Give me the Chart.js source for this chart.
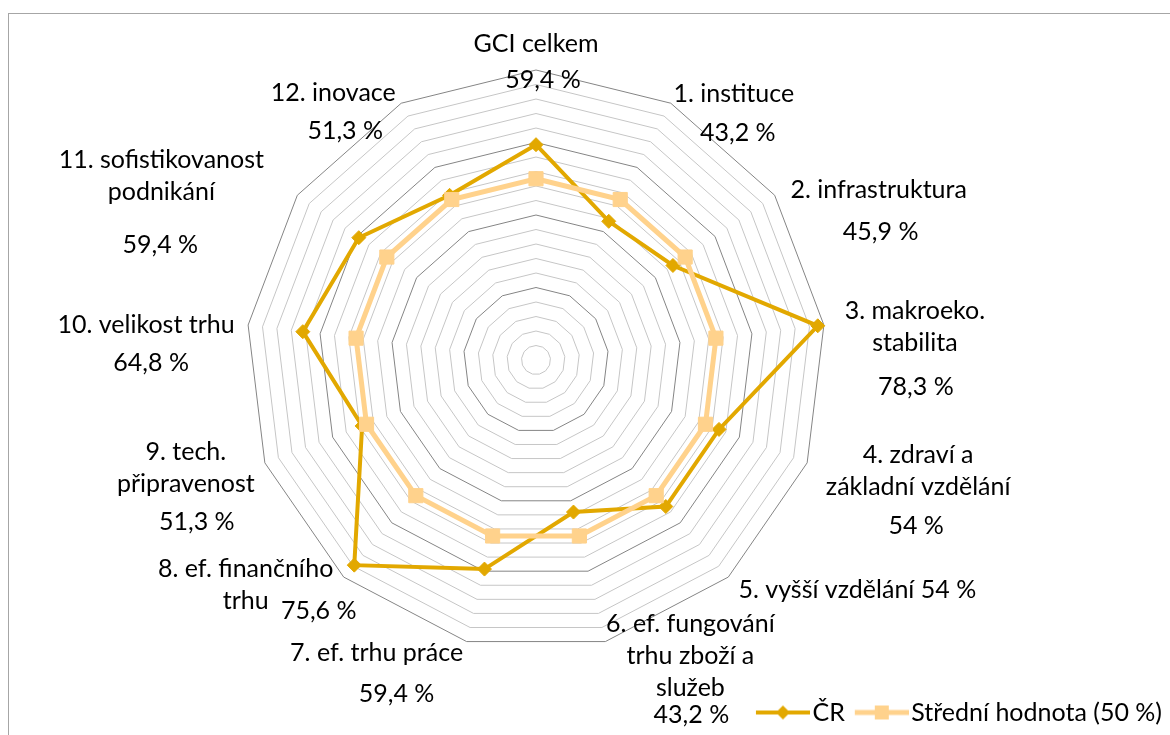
<!DOCTYPE html>
<html>
<head>
<meta charset="utf-8">
<script src="https://cdn.jsdelivr.net/npm/chart.js@4.4.1/dist/chart.umd.min.js"></script>
<style>
  html, body { margin: 0; padding: 0; background: #fff; overflow: hidden; }
  #wrap { position: relative; width: 1170px; height: 735px; }
  #frame { position: absolute; left: 8px; top: 13px; width: 1200px; height: 800px; border: 1px solid #a6a6a6; }
  canvas { position: absolute; left: 0; top: 0; }
</style>
</head>
<body>
<div id="wrap">
  <div id="frame"></div>
  <canvas id="chart" width="1170" height="735"></canvas>
</div>
<script>
'use strict'

// data
const categories = [
  ['GCI celkem'],
  ['1. instituce'],
  ['2. infrastruktura'],
  ['3. makroeko.', 'stabilita'],
  ['4. zdraví a', 'základní vzdělání'],
  ['5. vyšší vzdělání'],
  ['6. ef. fungování', 'trhu zboží a', 'služeb'],
  ['7. ef. trhu práce'],
  ['8. ef. finančního', 'trhu'],
  ['9. tech.', 'připravenost'],
  ['10. velikost trhu'],
  ['11. sofistikovanost', 'podnikání'],
  ['12. inovace'],
]
const crValues = [59.4, 43.2, 45.9, 78.3, 54, 54, 43.2, 59.4, 75.6, 51.3, 64.8, 59.4, 51.3]
const meanValues = [50, 50, 50, 50, 50, 50, 50, 50, 50, 50, 50, 50, 50]
const seriesNames = ['ČR', 'Střední hodnota (50 %)']
const scaleMin = 0
const scaleMax = 80
const scaleStep = 4
const majorStep = 20

// layout / style
const CR_COLOR = '#E2A800'
const MEAN_COLOR = '#FFD28C'
const FONT = 'Lato'
const FONT_SIZE = 25
const CENTER_X = 536
const CENTER_Y = 360
const RADIUS = 290
const LINE_GAP = 32
// label block placement relative to the end of each axis:
// [dx, dy of first line, value dx, value gap below last line (0 = same line)]
const labelLayout = [
  [0, -26, 7, 36],
  [63, -9, 4, 39],
  [104, -5, 2, 42],
  [91, -14, 1, 44],
  [111, -8, -2, 39],
  [129, 13, 0, 0],
  [85, -18, 1, 27],
  [-90, 11, 20, 41],
  [-98, -8, 73, 10],
  [-79, -11, 11, 38],
  [-102, 0, 5, 38],
  [-136, -35, -1, 53],
  [-68, -10, 12, 38],
]

const fmt = (v) => String(v).replace('.', ',') + ' %'

function legendIcon(color, lineWidth, shape, size) {
  const c = document.createElement('canvas')
  c.width = 66
  c.height = 20
  const g = c.getContext('2d')
  g.strokeStyle = color
  g.fillStyle = color
  g.lineWidth = lineWidth
  g.beginPath()
  g.moveTo(12, 10)
  g.lineTo(66, 10)
  g.stroke()
  g.beginPath()
  if (shape === 'diamond') {
    g.moveTo(39 - size, 10)
    g.lineTo(39, 10 - size)
    g.lineTo(39 + size, 10)
    g.lineTo(39, 10 + size)
    g.closePath()
  } else {
    g.rect(39 - size, 10 - size, size * 2, size * 2)
  }
  g.fill()
  return c
}
const legendIcons = [
  legendIcon(CR_COLOR, 4, 'diamond', 7),
  legendIcon(MEAN_COLOR, 5, 'square', 7),
]

const axisLabels = {
  id: 'axisLabels',
  afterDraw(chart) {
    const { ctx } = chart
    const scale = chart.scales.r
    ctx.save()
    ctx.font = FONT_SIZE + 'px ' + FONT
    ctx.fillStyle = '#000'
    ctx.textAlign = 'center'
    ctx.textBaseline = 'middle'
    categories.forEach((lines, i) => {
      const end = scale.getPointPosition(i, scale.drawingArea)
      const [dx, dy, vdx, vgap] = labelLayout[i]
      const x = end.x + dx
      const y = end.y + dy
      const rows = lines.slice()
      const value = fmt(crValues[i])
      if (vgap === 0) rows[rows.length - 1] += ' ' + value
      rows.forEach((t, k) => ctx.fillText(t, x, y + k * LINE_GAP))
      if (vgap !== 0) {
        ctx.fillText(value, x + vdx, y + (rows.length - 1) * LINE_GAP + vgap)
      }
    })
    ctx.restore()
  },
}

const chartCtx = document.getElementById('chart').getContext('2d')
const chartInstance = new Chart(chartCtx, {
  type: 'radar',
  data: {
    labels: categories,
    datasets: [
      {
        label: seriesNames[0],
        data: crValues,
        borderColor: CR_COLOR,
        backgroundColor: CR_COLOR,
        borderWidth: 4,
        fill: false,
        pointStyle: 'rectRot',
        pointRadius: 7,
        pointBorderWidth: 1,
        pointBackgroundColor: CR_COLOR,
        pointBorderColor: CR_COLOR,
        order: 1,
      },
      {
        label: seriesNames[1],
        data: meanValues,
        borderColor: MEAN_COLOR,
        backgroundColor: MEAN_COLOR,
        borderWidth: 5,
        fill: false,
        pointStyle: 'rect',
        pointRadius: 10,
        pointBorderWidth: 1,
        pointBackgroundColor: MEAN_COLOR,
        pointBorderColor: MEAN_COLOR,
        order: 0,
      },
    ],
  },
  options: {
    responsive: false,
    animation: false,
    devicePixelRatio: 1,
    layout: { padding: 0 },
    elements: { line: { tension: 0 } },
    scales: {
      r: {
        min: scaleMin,
        max: scaleMax,
        ticks: { stepSize: scaleStep, display: false },
        angleLines: { display: false },
        pointLabels: { display: false },
        grid: {
          lineWidth: 1,
          color: (c) => (c.tick && c.tick.value % majorStep === 0 ? '#858585' : '#c6c6c6'),
        },
        afterFit: (scale) => {
          scale.xCenter = CENTER_X
          scale.yCenter = CENTER_Y
          scale.drawingArea = RADIUS
        },
      },
    },
    plugins: {
      tooltip: { enabled: false },
      legend: {
        position: 'bottom',
        align: 'end',
        labels: {
          usePointStyle: true,
          pointStyleWidth: 46,
          padding: 8,
          color: '#000',
          font: { family: FONT, size: FONT_SIZE },
          sort: (a, b) => a.datasetIndex - b.datasetIndex,
          generateLabels: (chart) => {
            const items = Chart.defaults.plugins.legend.labels.generateLabels(chart)
            items.forEach((it) => (it.pointStyle = legendIcons[it.datasetIndex]))
            return items
          },
        },
      },
    },
  },
  plugins: [axisLabels],
})
</script>
</body>
</html>
